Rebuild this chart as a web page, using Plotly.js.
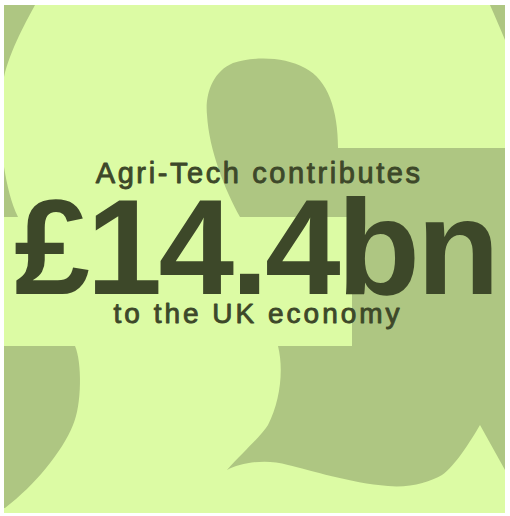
<!DOCTYPE html>
<html>
<head>
<meta charset="utf-8">
<script src="https://cdn.plot.ly/plotly-3.0.1.min.js"></script>
<style>
html,body{margin:0;padding:0;background:#ffffff;}
#chart{width:510px;height:516px;}
</style>
</head>
<body>
<div id="chart"></div>
<script>
// Text content
const lineLabels = ["Agri-Tech contributes", "£14.4bn", "to the UK economy"];
const lineSizes = [29, 136, 28];
const lineWeights = ["normal", "bold", "normal"];
const lineSpacing = ["2.6px", "-3.5px", "3.0px"];
const lineStroke = ["0.9px", "0px", "0.9px"];
const lineX = [259, 255, 258];
const lineY = [173, 247, 313];

const W = 510, H = 516;
const light = "#dcfba4";
const dark = "#aec682";
const ink = "#3d4829";

// decorative background: a huge, cropped pound sign
const bgPaths = [
  "M4,5 L35,5 C28,18 10,50 4,77 Z",
  "M490,5 L505,5 L505,40 C500,28 495,16 490,5 Z",
  "M4,167 C7,185 11,203 18,217 L4,217 Z",
  "M4,346 L75,346 C82,362 82,405 73,425 C62,452 35,485 5,508 L4,508 Z",
  "M240,217 L352,217 L352,346 L278,346 C284,370 280,402 268,425 C262,435 245,450 227,470 " +
  "C240,463 265,458 288,465 C310,470 350,483 388,486 C410,488 430,482 442,475 " +
  "C455,466 470,442 480,425 L505,470 L505,148 L338,148 C338,110 328,80 305,68 " +
  "C285,57 255,56 233,63 C212,72 205,95 207,115 C209,150 225,190 240,217 Z"
];

const shapes = [{
  type: "rect", xref: "x", yref: "y", x0: 4, x1: 505, y0: 5, y1: 513,
  fillcolor: light, line: {width: 0}, layer: "below"
}];
bgPaths.forEach(p => shapes.push({
  type: "path", xref: "x", yref: "y", path: p,
  fillcolor: dark, line: {width: 0}, layer: "below"
}));

const annotations = lineLabels.map((t, i) => ({
  text: t, xref: "x", yref: "y", x: lineX[i], y: lineY[i],
  xanchor: "center", yanchor: "middle", showarrow: false, align: "center",
  font: {family: "Liberation Sans, Arial, sans-serif", size: lineSizes[i], color: ink, weight: lineWeights[i]}
}));

const layout = {
  width: W, height: H,
  margin: {l: 0, r: 0, t: 0, b: 0, pad: 0},
  paper_bgcolor: "#ffffff", plot_bgcolor: "rgba(0,0,0,0)",
  xaxis: {range: [0, W], visible: false, fixedrange: true},
  yaxis: {range: [H, 0], visible: false, fixedrange: true},
  showlegend: false,
  shapes: shapes,
  annotations: annotations
};

Plotly.newPlot("chart", [{x: [], y: [], type: "scatter", mode: "markers", hoverinfo: "skip"}], layout,
  {displayModeBar: false, staticPlot: true}).then(() => {
  document.querySelectorAll(".annotation-text").forEach((el, i) => {
    el.style.letterSpacing = lineSpacing[i];
    if (lineStroke[i] !== "0px") {
      el.style.stroke = ink;
      el.style.strokeWidth = lineStroke[i];
      el.style.strokeLinejoin = "round";
    }
  });
});
</script>
</body>
</html>
